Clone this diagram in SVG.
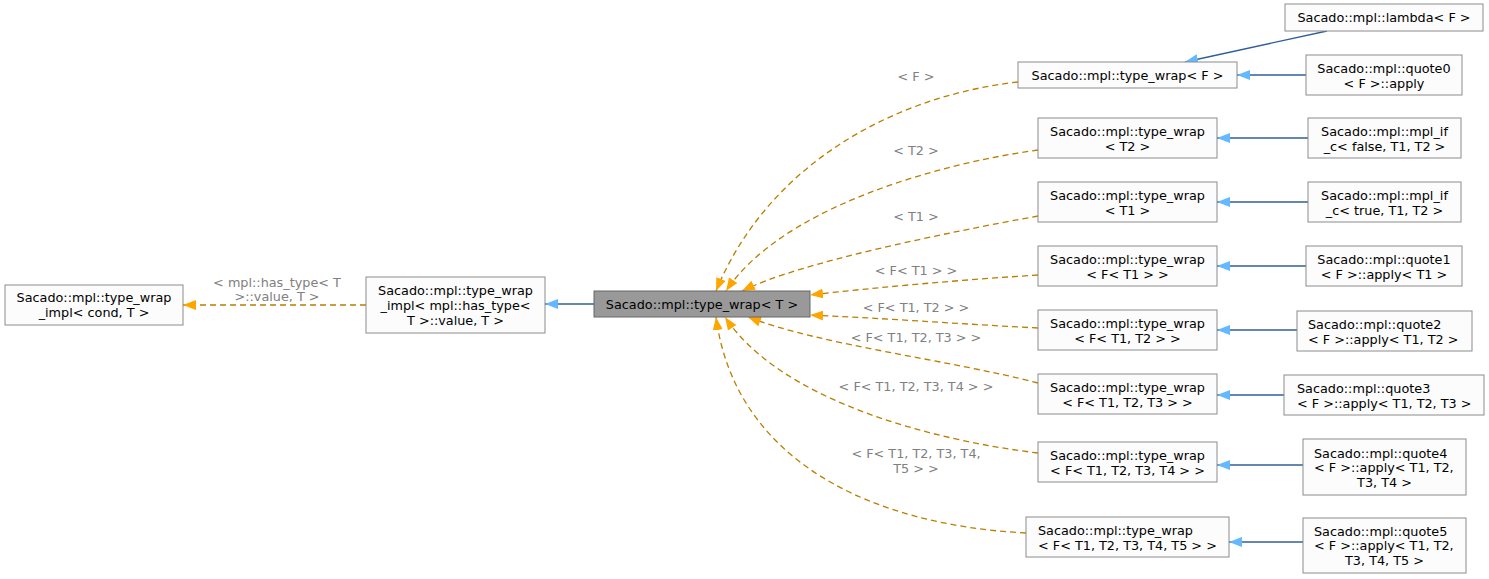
<svg xmlns="http://www.w3.org/2000/svg" width="1489" height="579" viewBox="0 0 1489 579">
<style>
text{font-family:"DejaVu Sans","Liberation Sans",sans-serif;font-size:12.8px;fill:#000}
.n rect{fill:#fbfcfb;stroke:#8c8c8c;stroke-width:1}
.g rect{fill:#999999;stroke:#666666;stroke-width:1}
.c{text-anchor:middle}
.lbl{fill:#808080;text-anchor:middle}
.inh{fill:none;stroke:#2f5f98;stroke-width:1.3}
.tpl{fill:none;stroke:#b97f00;stroke-width:1.3;stroke-dasharray:6,4}
</style>
<defs>
<marker id="ab" markerUnits="userSpaceOnUse" markerWidth="13" markerHeight="10" viewBox="0 0 13 10" refX="13" refY="5" orient="auto"><path d="M0,0 L13,5 L0,10 z" fill="#63b8ff"/></marker>
<marker id="ao" markerUnits="userSpaceOnUse" markerWidth="13" markerHeight="10" viewBox="0 0 13 10" refX="13" refY="5" orient="auto"><path d="M0,0 L13,5 L0,10 z" fill="#ffa500"/></marker>
</defs>
<rect width="1489" height="579" fill="#ffffff"/>
<g id="edges">
<path class="tpl" d="M366,305 L183,305" marker-end="url(#ao)"/>
<text class="lbl" x="277" y="287">&lt; mpl::has_type&lt; T</text>
<text class="lbl" x="277" y="301">&gt;::value, T &gt;</text>
<path class="inh" d="M594,304 L545,304" marker-end="url(#ab)"/>
<path class="tpl" d="M1018,82 C900,95 770,160 716,291" marker-end="url(#ao)"/>
<text class="lbl" x="916" y="81">&lt; F &gt;</text>
<path class="tpl" d="M1038,150 C930,165 780,210 726,291" marker-end="url(#ao)"/>
<text class="lbl" x="916" y="155">&lt; T2 &gt;</text>
<path class="tpl" d="M1038,216 C950,232 800,262 742,291" marker-end="url(#ao)"/>
<text class="lbl" x="916" y="221">&lt; T1 &gt;</text>
<path class="tpl" d="M1038,275 C960,280 880,287 810,295" marker-end="url(#ao)"/>
<text class="lbl" x="916" y="275">&lt; F&lt; T1 &gt; &gt;</text>
<path class="tpl" d="M1038,328 C960,324 880,318 810,315" marker-end="url(#ao)"/>
<text class="lbl" x="916" y="312">&lt; F&lt; T1, T2 &gt; &gt;</text>
<path class="tpl" d="M1038,383 C950,360 820,345 748,317" marker-end="url(#ao)"/>
<text class="lbl" x="916" y="342">&lt; F&lt; T1, T2, T3 &gt; &gt;</text>
<path class="tpl" d="M1038,453 C930,440 780,400 725,317" marker-end="url(#ao)"/>
<text class="lbl" x="916" y="391">&lt; F&lt; T1, T2, T3, T4 &gt; &gt;</text>
<path class="tpl" d="M1026,533 C870,525 735,460 716,317" marker-end="url(#ao)"/>
<text class="lbl" x="916" y="458">&lt; F&lt; T1, T2, T3, T4,</text>
<text class="lbl" x="916" y="473">T5 &gt; &gt;</text>
<path class="inh" d="M1327,31 L1185,62" marker-end="url(#ab)"/>
<path class="inh" d="M1306,75 L1237,75" marker-end="url(#ab)"/>
<path class="inh" d="M1308,138 L1217,138" marker-end="url(#ab)"/>
<path class="inh" d="M1308,202 L1217,202" marker-end="url(#ab)"/>
<path class="inh" d="M1306,266 L1217,266" marker-end="url(#ab)"/>
<path class="inh" d="M1297,330 L1217,330" marker-end="url(#ab)"/>
<path class="inh" d="M1284,395 L1217,395" marker-end="url(#ab)"/>
<path class="inh" d="M1303,465 L1217,465" marker-end="url(#ab)"/>
<path class="inh" d="M1303,542 L1229,542" marker-end="url(#ab)"/>
</g>
<g id="node1" class="n"><rect x="5" y="285" width="178" height="40"/>
<text class="c" x="94" y="302">Sacado::mpl::type_wrap</text><text class="c" x="94" y="317">_impl&lt; cond, T &gt;</text></g>
<g id="node2" class="n"><rect x="366" y="277" width="179" height="56"/>
<text class="c" x="455.5" y="294.5">Sacado::mpl::type_wrap</text><text class="c" x="455.5" y="309.5">_impl&lt; mpl::has_type&lt;</text><text class="c" x="455.5" y="324.5">T &gt;::value, T &gt;</text></g>
<g id="node3" class="g"><rect x="594" y="291" width="216" height="26"/>
<text class="c" x="702" y="308.5">Sacado::mpl::type_wrap&lt; T &gt;</text></g>
<g id="node4" class="n"><rect x="1018" y="62" width="219" height="26"/>
<text class="c" x="1127.5" y="79.5">Sacado::mpl::type_wrap&lt; F &gt;</text></g>
<g id="node5" class="n"><rect x="1038" y="118" width="179" height="40"/>
<text class="c" x="1127.5" y="135.5">Sacado::mpl::type_wrap</text><text class="c" x="1127.5" y="150.5">&lt; T2 &gt;</text></g>
<g id="node6" class="n"><rect x="1038" y="182" width="179" height="40"/>
<text class="c" x="1127.5" y="199.5">Sacado::mpl::type_wrap</text><text class="c" x="1127.5" y="214.5">&lt; T1 &gt;</text></g>
<g id="node7" class="n"><rect x="1038" y="246" width="179" height="40"/>
<text class="c" x="1127.5" y="263.5">Sacado::mpl::type_wrap</text><text class="c" x="1127.5" y="278.5">&lt; F&lt; T1 &gt; &gt;</text></g>
<g id="node8" class="n"><rect x="1038" y="310" width="179" height="40"/>
<text class="c" x="1127.5" y="327.5">Sacado::mpl::type_wrap</text><text class="c" x="1127.5" y="342.5">&lt; F&lt; T1, T2 &gt; &gt;</text></g>
<g id="node9" class="n"><rect x="1038" y="374" width="179" height="40"/>
<text class="c" x="1127.5" y="391.5">Sacado::mpl::type_wrap</text><text class="c" x="1127.5" y="406.5">&lt; F&lt; T1, T2, T3 &gt; &gt;</text></g>
<g id="node10" class="n"><rect x="1038" y="442" width="179" height="40"/>
<text class="c" x="1127.5" y="459.5">Sacado::mpl::type_wrap</text><text class="c" x="1127.5" y="474.5">&lt; F&lt; T1, T2, T3, T4 &gt; &gt;</text></g>
<g id="node11" class="n"><rect x="1026" y="517" width="203" height="40"/>
<text x="1038" y="534.5">Sacado::mpl::type_wrap</text><text x="1038" y="549.5">&lt; F&lt; T1, T2, T3, T4, T5 &gt; &gt;</text></g>
<g id="node12" class="n"><rect x="1285" y="4" width="198" height="27"/>
<text class="c" x="1384" y="22">Sacado::mpl::lambda&lt; F &gt;</text></g>
<g id="node13" class="n"><rect x="1306" y="55" width="156" height="40"/>
<text class="c" x="1384" y="72.5">Sacado::mpl::quote0</text><text class="c" x="1384" y="87.5">&lt; F &gt;::apply</text></g>
<g id="node14" class="n"><rect x="1308" y="118" width="153" height="40"/>
<text class="c" x="1384.5" y="135.5">Sacado::mpl::mpl_if</text><text class="c" x="1384.5" y="150.5">_c&lt; false, T1, T2 &gt;</text></g>
<g id="node15" class="n"><rect x="1308" y="182" width="153" height="40"/>
<text class="c" x="1384.5" y="199.5">Sacado::mpl::mpl_if</text><text class="c" x="1384.5" y="214.5">_c&lt; true, T1, T2 &gt;</text></g>
<g id="node16" class="n"><rect x="1306" y="246" width="156" height="40"/>
<text class="c" x="1384" y="263.5">Sacado::mpl::quote1</text><text class="c" x="1384" y="278.5">&lt; F &gt;::apply&lt; T1 &gt;</text></g>
<g id="node17" class="n"><rect x="1297" y="311" width="175" height="40"/>
<text x="1308" y="328.5">Sacado::mpl::quote2</text><text x="1308" y="343.5">&lt; F &gt;::apply&lt; T1, T2 &gt;</text></g>
<g id="node18" class="n"><rect x="1284" y="375" width="200" height="40"/>
<text x="1297" y="392.5">Sacado::mpl::quote3</text><text x="1297" y="407.5">&lt; F &gt;::apply&lt; T1, T2, T3 &gt;</text></g>
<g id="node19" class="n"><rect x="1303" y="439" width="163" height="56"/>
<text x="1314" y="457.5">Sacado::mpl::quote4</text><text x="1314" y="472">&lt; F &gt;::apply&lt; T1, T2,</text><text class="c" x="1384.5" y="486.5">T3, T4 &gt;</text></g>
<g id="node20" class="n"><rect x="1303" y="518" width="163" height="55"/>
<text x="1314" y="535.5">Sacado::mpl::quote5</text><text x="1314" y="550">&lt; F &gt;::apply&lt; T1, T2,</text><text class="c" x="1384.5" y="564.5">T3, T4, T5 &gt;</text></g>
</svg>
